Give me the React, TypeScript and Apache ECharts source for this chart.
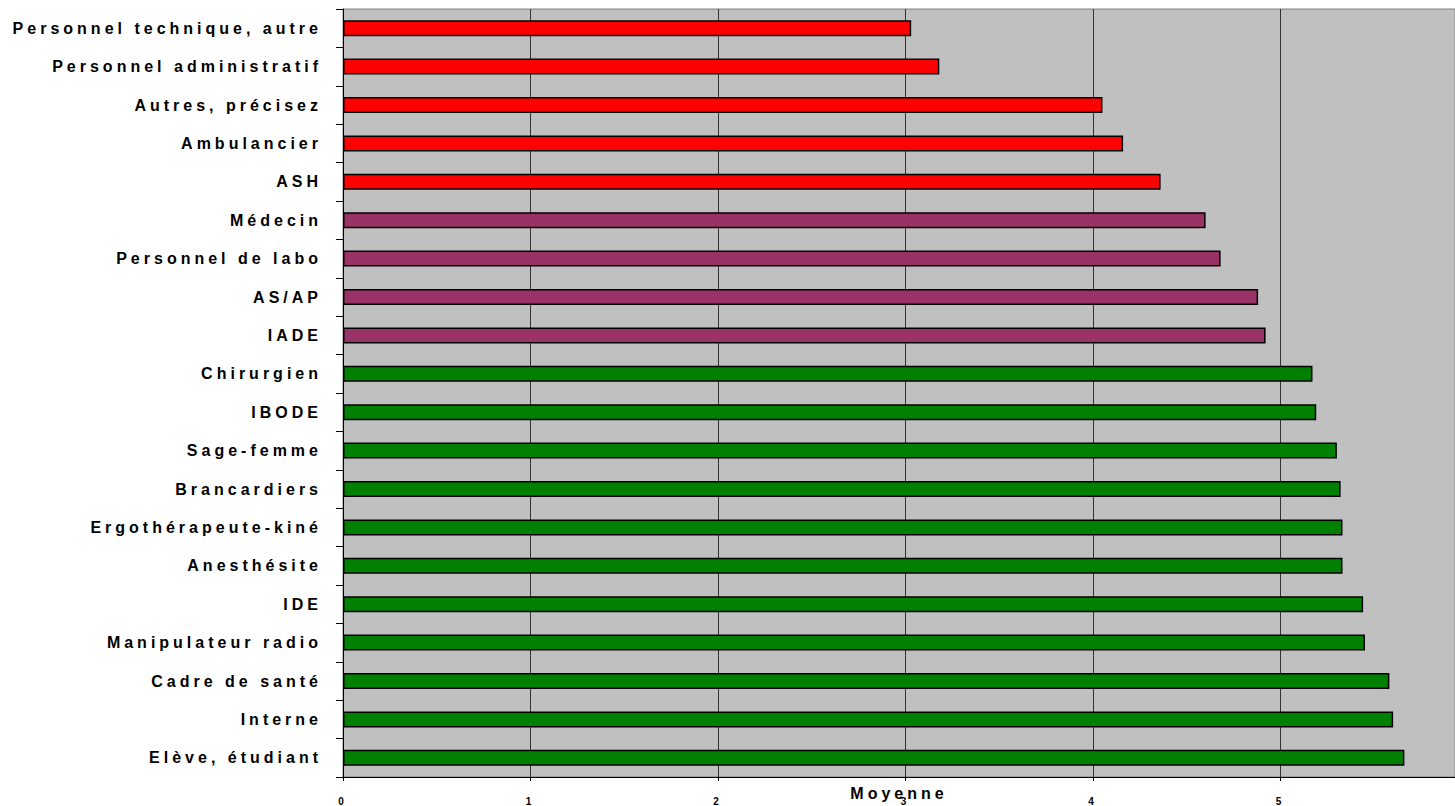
import React, { useEffect, useRef } from "react";
import * as echarts from "echarts";

const categories = [
  "Personnel technique, autre",
  "Personnel administratif",
  "Autres, précisez",
  "Ambulancier",
  "ASH",
  "Médecin",
  "Personnel de labo",
  "AS/AP",
  "IADE",
  "Chirurgien",
  "IBODE",
  "Sage-femme",
  "Brancardiers",
  "Ergothérapeute-kiné",
  "Anesthésite",
  "IDE",
  "Manipulateur radio",
  "Cadre de santé",
  "Interne",
  "Elève, étudiant",
];

const values = [
  3.03, 3.18, 4.05, 4.16, 4.36, 4.6, 4.68, 4.88, 4.92, 5.17, 5.19, 5.3, 5.32,
  5.33, 5.33, 5.44, 5.45, 5.58, 5.6, 5.66,
];

const groups = [
  "low", "low", "low", "low", "low",
  "mid", "mid", "mid", "mid",
  "high", "high", "high", "high", "high", "high", "high", "high", "high", "high", "high",
];

const groupColors: Record<string, string> = {
  low: "#ff0000",
  mid: "#993366",
  high: "#008000",
};

const xTicks = [0, 1, 2, 3, 4, 5];
const axisTitle = "Moyenne";

export default function App() {
  const ref = useRef<HTMLDivElement>(null);

  useEffect(() => {
    if (!ref.current) return;
    const chart = echarts.init(ref.current, undefined, { renderer: "svg" });
    const font = "'Liberation Sans', Arial, Helvetica, sans-serif";
    chart.setOption({
      animation: false,
      backgroundColor: "#ffffff",
      grid: {
        left: 343,
        top: 9,
        right: 0,
        bottom: 29,
        outerBoundsMode: "none",
        containLabel: false,
        show: true,
        backgroundColor: "#c0c0c0",
        borderColor: "#808080",
        borderWidth: 1,
      },
      xAxis: {
        type: "value",
        min: xTicks[0],
        max: 5.93,
        interval: 1,
        name: axisTitle,
        nameLocation: "middle",
        nameGap: 8,
        nameMoveOverlap: false,
        nameTextStyle: {
          fontFamily: font,
          fontWeight: "bold",
          fontSize: 16,
          color: "#000",
        },
        axisLine: { show: true, lineStyle: { color: "#000", width: 1 } },
        axisTick: { show: true, length: 4, lineStyle: { color: "#000" } },
        axisLabel: {
          show: true,
          margin: 19,
          fontFamily: font,
          fontWeight: "bold",
          fontSize: 10,
          color: "#000",
          showMaxLabel: false,
          formatter: (v: number) => (xTicks.includes(v) ? String(v) : ""),
        },
        splitLine: { show: true, lineStyle: { color: "#333333", width: 1 } },
      },
      yAxis: {
        type: "category",
        data: categories,
        inverse: true,
        axisLine: { show: true, lineStyle: { color: "#000", width: 1 } },
        axisTick: {
          show: true,
          length: 7,
          alignWithLabel: false,
          lineStyle: { color: "#000" },
        },
        axisLabel: {
          interval: 0,
          margin: 21,
          fontFamily: font,
          fontWeight: "bold",
          fontSize: 16,
          color: "#000",
        },
        splitLine: { show: false },
      },
      series: [
        {
          type: "bar",
          barWidth: 16,
          data: values.map((v, i) => ({
            value: v,
            itemStyle: {
              color: groupColors[groups[i]],
              borderColor: "#000",
              borderWidth: 1.5,
            },
          })),
        },
      ],
    });
    return () => chart.dispose();
  }, []);

  return (
    <div
      ref={ref}
      style={{
        position: "fixed",
        left: 0,
        top: 0,
        width: 1455,
        height: 806,
        letterSpacing: "4px",
        background: "#fff",
      }}
    />
  );
}
